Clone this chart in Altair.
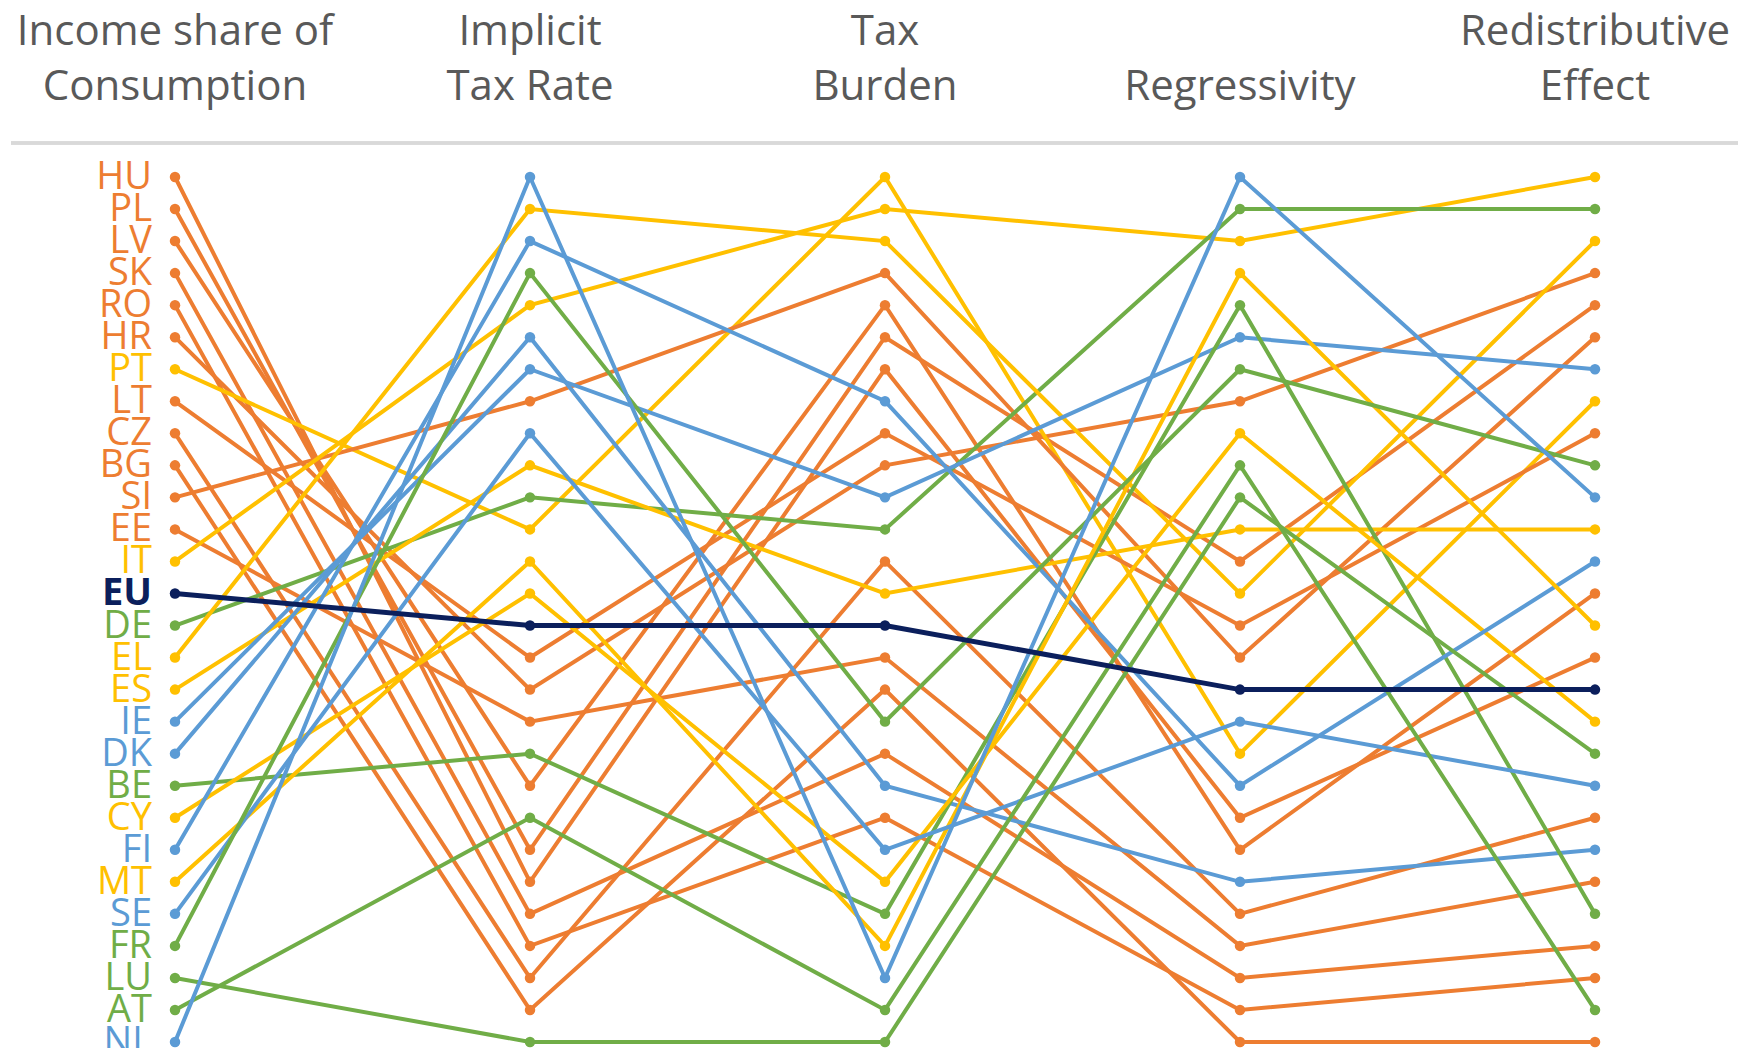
import altair as alt
import pandas as pd

countries = ["HU", "PL", "LV", "SK", "RO", "HR", "PT", "LT", "CZ", "BG", "SI", "EE", "IT", "EU",
             "DE", "EL", "ES", "IE", "DK", "BE", "CY", "FI", "MT", "SE", "FR", "LU", "AT", "NL"]
groups = ["o", "o", "o", "o", "o", "o", "y", "o", "o", "o", "o", "o", "y", "eu",
          "g", "y", "y", "b", "b", "g", "y", "b", "y", "b", "g", "g", "g", "b"]

rank_income = [1, 2, 3, 4, 5, 6, 7, 8, 9, 10, 11, 12, 13, 14,
               15, 16, 17, 18, 19, 20, 21, 22, 23, 24, 25, 26, 27, 28]
rank_itr = [23, 22, 20, 24, 25, 17, 12, 16, 26, 27, 8, 18, 5, 15,
            11, 2, 10, 7, 6, 19, 14, 3, 13, 9, 4, 28, 21, 1]
rank_burden = [7, 6, 5, 19, 21, 10, 1, 9, 13, 17, 4, 16, 2, 15,
               12, 3, 14, 11, 20, 24, 23, 8, 25, 22, 18, 28, 27, 26]
rank_regress = [21, 13, 22, 26, 27, 8, 19, 15, 24, 28, 16, 25, 3, 17,
                2, 14, 12, 6, 23, 5, 9, 20, 4, 18, 7, 11, 10, 1]
rank_redist = [16, 5, 14, 25, 26, 4, 8, 9, 21, 28, 6, 23, 1, 17,
               2, 3, 12, 7, 22, 24, 18, 13, 15, 20, 10, 19, 27, 11]

title_line1 = ["Income share of", "Implicit", "Tax", "", "Redistributive"]
title_line2 = ["Consumption", "Tax Rate", "Burden", "Regressivity", "Effect"]

group_domain = ["o", "y", "g", "b", "eu"]
group_colors = ["#ED7D31", "#FFC000", "#70AD47", "#5B9BD5", "#0B1F5C"]

all_ranks = [rank_income, rank_itr, rank_burden, rank_regress, rank_redist]
rows = []
for i, c in enumerate(countries):
    for a, rk in enumerate(all_ranks):
        rows.append({"country": c, "grp": groups[i], "axis": a, "rank": rk[i]})
df = pd.DataFrame(rows)
df_other = df[df["grp"] != "eu"]
df_eu = df[df["grp"] == "eu"]

labels = pd.DataFrame({"country": countries, "grp": groups, "rank": rank_income, "axis": [0] * len(countries)})
titles = pd.DataFrame({"axis": list(range(5)), "line1": title_line1, "line2": title_line2})

xs = alt.Scale(domain=[0, 4], range=[167, 1587], zero=False, nice=False)
ys = alt.Scale(domain=[1, 28], range=[169, 1034], zero=False, nice=False)
cs = alt.Scale(domain=group_domain, range=group_colors)

X = alt.X("axis:Q", scale=xs, axis=None)
Y = alt.Y("rank:Q", scale=ys, axis=None)
C = alt.Color("grp:N", scale=cs, legend=None)

lines = alt.Chart(df_other).mark_line(strokeWidth=4).encode(
    x=X, y=Y, color=C, detail="country:N", order="axis:Q")
points = alt.Chart(df_other).mark_point(filled=True, size=110, opacity=1).encode(
    x=X, y=Y, color=C)
eu_line = alt.Chart(df_eu).mark_line(strokeWidth=5).encode(
    x=X, y=Y, color=C, detail="country:N", order="axis:Q")
eu_points = alt.Chart(df_eu).mark_point(filled=True, size=110, opacity=1).encode(
    x=X, y=Y, color=C)

lab_other = alt.Chart(labels[labels["grp"] != "eu"]).mark_text(
    align="right", baseline="middle", dx=-23, dy=1, font="Open Sans", fontSize=38).encode(
    x=X, y=Y, color=C, text="country:N")
lab_eu = alt.Chart(labels[labels["grp"] == "eu"]).mark_text(
    align="right", baseline="middle", dx=-23, dy=1, font="Open Sans", fontSize=38, fontWeight="bold").encode(
    x=X, y=Y, color=C, text="country:N")

t1 = alt.Chart(titles).mark_text(align="center", baseline="alphabetic", font="Open Sans",
                                 fontSize=42, color="#595959").encode(
    x=X, y=alt.value(37), text="line1:N")
t2 = alt.Chart(titles).mark_text(align="center", baseline="alphabetic", font="Open Sans",
                                 fontSize=42, color="#595959").encode(
    x=X, y=alt.value(92), text="line2:N")

sep = alt.Chart(titles).mark_rule(color="#D9D9D9", strokeWidth=3).encode(
    x=alt.value(3), x2=alt.value(1730), y=alt.value(135))

chart = alt.layer(sep, t1, t2, lines, points, eu_line, eu_points, lab_other, lab_eu).properties(
    width=1742, height=1040, autosize=alt.AutoSizeParams(type="none"), padding=0,
    background="white"
).configure_view(stroke=None)

chart.save("out.html", embed_options={"renderer": "svg", "actions": False})
